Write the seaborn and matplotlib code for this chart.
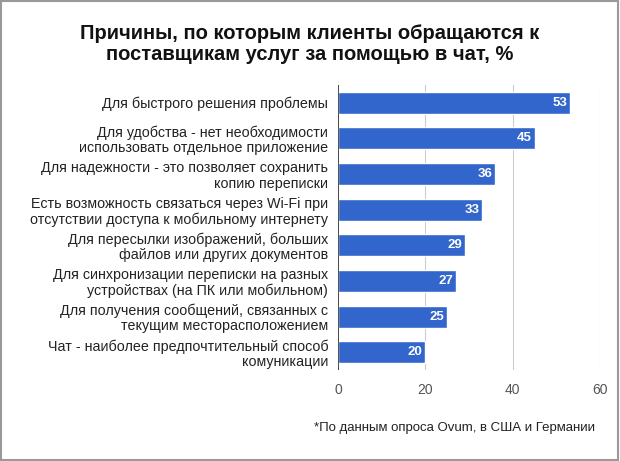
import pandas as pd
import matplotlib
matplotlib.use('Agg')
import matplotlib.pyplot as plt
import seaborn as sns
from matplotlib.patches import Rectangle

# данные
reasons = [
    'Для быстрого решения проблемы',
    'Для удобства - нет необходимости\nиспользовать отдельное приложение',
    'Для надежности - это позволяет сохранить\nкопию переписки',
    'Есть возможность связаться через Wi-Fi при\nотсутствии доступа к мобильному интернету',
    'Для пересылки изображений, больших\nфайлов или других документов',
    'Для синхронизации переписки на разных\nустройствах (на ПК или мобильном)',
    'Для получения сообщений, связанных с\nтекущим месторасположением',
    'Чат - наиболее предпочтительный способ\nкомуникации',
]
values = [53, 45, 36, 33, 29, 27, 25, 20]
x_ticks = [0, 20, 40, 60]

title = 'Причины, по которым клиенты обращаются к\nпоставщикам услуг за помощью в чат, %'
note = '*По данным опроса Ovum, в США и Германии'

df = pd.DataFrame({'reason': reasons, 'value': values})

sns.set_theme(style='white')
plt.rcParams['font.family'] = ['Liberation Sans', 'DejaVu Sans']

fig = plt.figure(figsize=(6.2, 4.61), dpi=100)
ax = fig.add_axes([0.545, 0.197, 0.423, 0.619])

sns.barplot(data=df, x='value', y='reason', color='#3366CC', saturation=1,
            width=0.62, ax=ax, orient='h')

ax.set_xlim(0, 60)
ax.set_xticks(x_ticks)
ax.grid(axis='x', color='#cccccc', linewidth=0.8)
ax.set_axisbelow(True)
for s in ax.spines.values():
    s.set_visible(False)
ax.axvline(0, color='#333333', linewidth=1.2)
ax.set_xlabel('')
ax.set_ylabel('')
ax.tick_params(axis='x', labelsize=10, colors='#555555', length=0, pad=9)
ax.tick_params(axis='y', labelsize=10.3, colors='#222222', length=0, pad=7)
for lbl in ax.get_yticklabels():
    lbl.set_linespacing(1.1)

for i, v in enumerate(values):
    ax.text(v - 0.6, i, str(v), ha='right', va='center', color='white',
            fontsize=9.5, fontweight='bold')

fig.text(0.5, 0.905, title, ha='center', va='center', fontsize=14.5,
         fontweight='bold', color='#111111', linespacing=1.15)
fig.text(0.96, 0.072, note, ha='right', va='center', fontsize=9.5, color='#222222')

fig.patches.append(Rectangle((0.002, 0.003), 0.995, 0.994, transform=fig.transFigure,
                             fill=False, edgecolor='#999999', linewidth=1.5))

plt.savefig('out.png', dpi=100)
plt.close()
